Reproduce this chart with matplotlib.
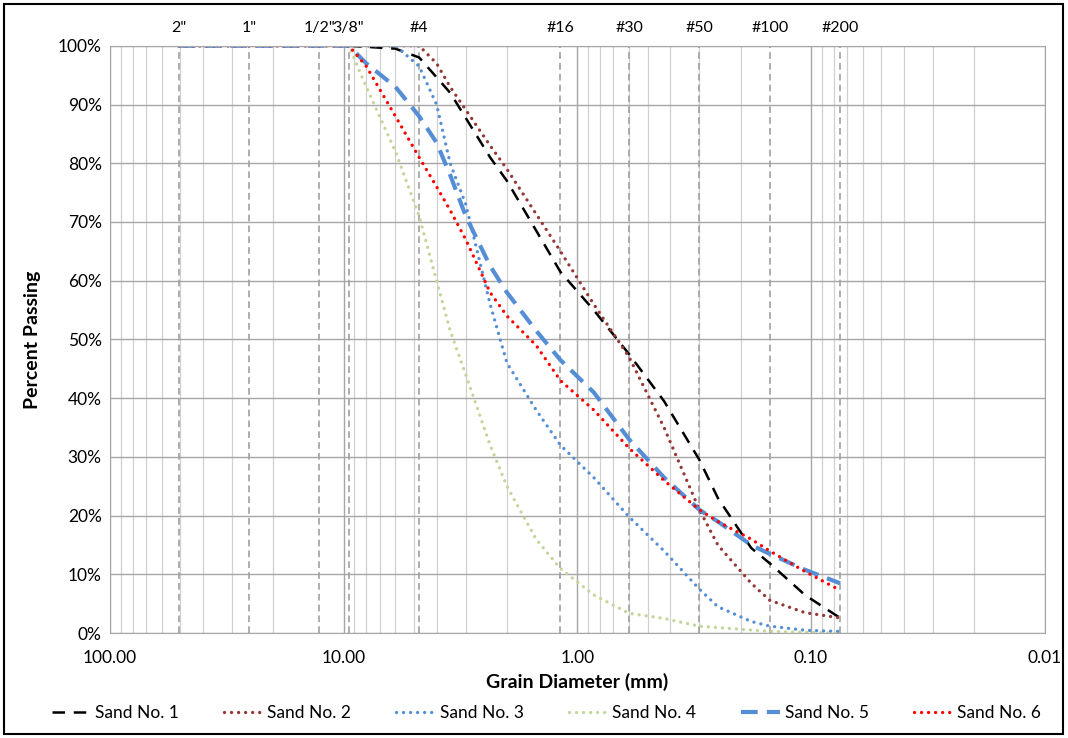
import matplotlib
matplotlib.use("Agg")
import matplotlib.pyplot as plt
from matplotlib.ticker import FixedLocator, FuncFormatter, LogLocator, NullFormatter
from matplotlib.patches import Rectangle

plt.rcParams['font.family'] = ['Lato', 'DejaVu Sans']

# sieve sizes (mm) and their labels
sieve_mm = [50.8, 25.4, 12.7, 9.525, 4.75, 1.18, 0.6, 0.3, 0.15, 0.075]
sieve_lbl = ['2"', '1"', '1/2"', '3/8"', '#4', '#16', '#30', '#50', '#100', '#200']

# grain size curves
d1 = [50.8, 9.5, 6.0, 4.75, 3.5, 2.36, 2.0, 1.18, 0.85, 0.6, 0.425, 0.3, 0.25, 0.18, 0.15, 0.106, 0.075]
p1 = [100, 100, 99.5, 98, 92, 81, 77, 61.5, 55, 47.5, 39.5, 29.5, 23, 14.5, 11.9, 6.5, 2.6]

d2 = [50.8, 4.75, 4.0, 3.5, 2.36, 2.0, 1.18, 0.85, 0.6, 0.425, 0.3, 0.25, 0.18, 0.15, 0.106, 0.075]
p2 = [100, 100, 97, 93, 83, 79, 65, 56, 47, 35, 21, 15, 8.5, 5.6, 3.5, 2.6]

d3 = [50.8, 9.5, 6.0, 4.75, 4.0, 3.5, 3.0, 2.36, 2.0, 1.5, 1.18, 0.85, 0.6, 0.425, 0.3, 0.25, 0.18, 0.15, 0.106, 0.075]
p3 = [100, 100, 100, 96.5, 90, 80, 73, 56, 46, 38, 32, 26.5, 19.8, 14, 7.5, 4.5, 2, 1.2, 0.5, 0.3]

d4 = [50.8, 9.5, 8.0, 6.0, 4.75, 4.0, 3.5, 3.0, 2.36, 2.0, 1.5, 1.18, 0.85, 0.6, 0.425, 0.3, 0.15, 0.075]
p4 = [100, 100, 93, 82, 71, 60, 51.5, 44, 32, 25, 16, 11, 6.5, 3.4, 2.5, 1.2, 0.3, 0]

d5 = [50.8, 9.5, 8.0, 6.0, 4.75, 4.0, 3.5, 3.0, 2.36, 2.0, 1.5, 1.18, 0.85, 0.6, 0.425, 0.3, 0.25, 0.18, 0.15, 0.106, 0.075]
p5 = [100, 100, 97, 93, 88, 83.5, 78, 71, 62.5, 58, 51.5, 46.5, 41, 33, 26.5, 21, 19, 15, 13.5, 10.8, 8.5]

d6 = [50.8, 9.5, 8.0, 6.0, 4.75, 4.0, 3.5, 3.0, 2.36, 2.0, 1.5, 1.18, 0.85, 0.6, 0.425, 0.3, 0.25, 0.18, 0.15, 0.106, 0.075]
p6 = [100, 100, 96.5, 88, 81, 76, 72, 67, 58, 54, 49, 43, 38, 31.5, 26, 21, 19, 16, 14, 10.5, 7.3]

fig = plt.figure(figsize=(10.68, 7.38), dpi=100)
ax = fig.add_axes([0.103, 0.142, 0.875, 0.796])

ax.set_xscale('log')
ax.set_xlim(100, 0.01)
ax.set_ylim(0, 100)

# grid
ax.xaxis.set_major_locator(FixedLocator([100, 10, 1, 0.1, 0.01]))
ax.xaxis.set_minor_locator(LogLocator(base=10, subs=range(2, 10)))
ax.xaxis.set_minor_formatter(NullFormatter())
ax.xaxis.set_major_formatter(FuncFormatter(lambda v, p: f'{v:.2f}'))
ax.set_yticks(range(0, 101, 10))
ax.yaxis.set_major_formatter(FuncFormatter(lambda v, p: f'{v:.0f}%'))
ax.grid(True, which='major', color='#a6a6a6', lw=1.0)
ax.grid(True, which='minor', axis='x', color='#d0d0d0', lw=0.9)
ax.tick_params(which='both', length=0, labelsize=12.5, pad=6)
ax.tick_params(axis='x', pad=12)
for s in ax.spines.values():
    s.set_color('#a6a6a6')
ax.set_axisbelow(True)

# sieve lines
for d, lbl in zip(sieve_mm, sieve_lbl):
    ax.axvline(d, color='#a0a0a0', lw=1.2, ls=(0, (4, 2.5)), zorder=1)
    ax.text(d, 101.8, lbl, ha='center', va='bottom', fontsize=11.5)

dot = (0, (0.01, 2.1))
ax.plot(d1, p1, color='black', lw=1.8, ls=(0, (5, 3.5)), label='Sand No. 1')
ax.plot(d2, p2, color='#953735', lw=2.4, ls=dot, dash_capstyle='round', label='Sand No. 2')
ax.plot(d3, p3, color='#558ed5', lw=2.4, ls=dot, dash_capstyle='round', label='Sand No. 3')
ax.plot(d4, p4, color='#c3d69b', lw=2.4, ls=dot, dash_capstyle='round', label='Sand No. 4')
ax.plot(d5, p5, color='#558ed5', lw=3.0, ls=(0, (4, 2.2)), label='Sand No. 5')
ax.plot(d6, p6, color='#ff0000', lw=2.4, ls=dot, dash_capstyle='round', label='Sand No. 6')

ax.set_xlabel('Grain Diameter (mm)', fontsize=14, fontweight='bold', labelpad=5)
ax.set_ylabel('Percent Passing', fontsize=14, fontweight='bold', labelpad=12)

ax.legend(loc='upper center', bbox_to_anchor=(0.467, -0.095), ncol=6, frameon=False,
          fontsize=12.5, handlelength=2.2, columnspacing=2.6, handletextpad=0.3)

fig.patches.append(Rectangle((0.004, 0.006), 0.991, 0.988, transform=fig.transFigure,
                             fill=False, edgecolor='black', lw=1.5))

fig.savefig('out.png', dpi=100)
